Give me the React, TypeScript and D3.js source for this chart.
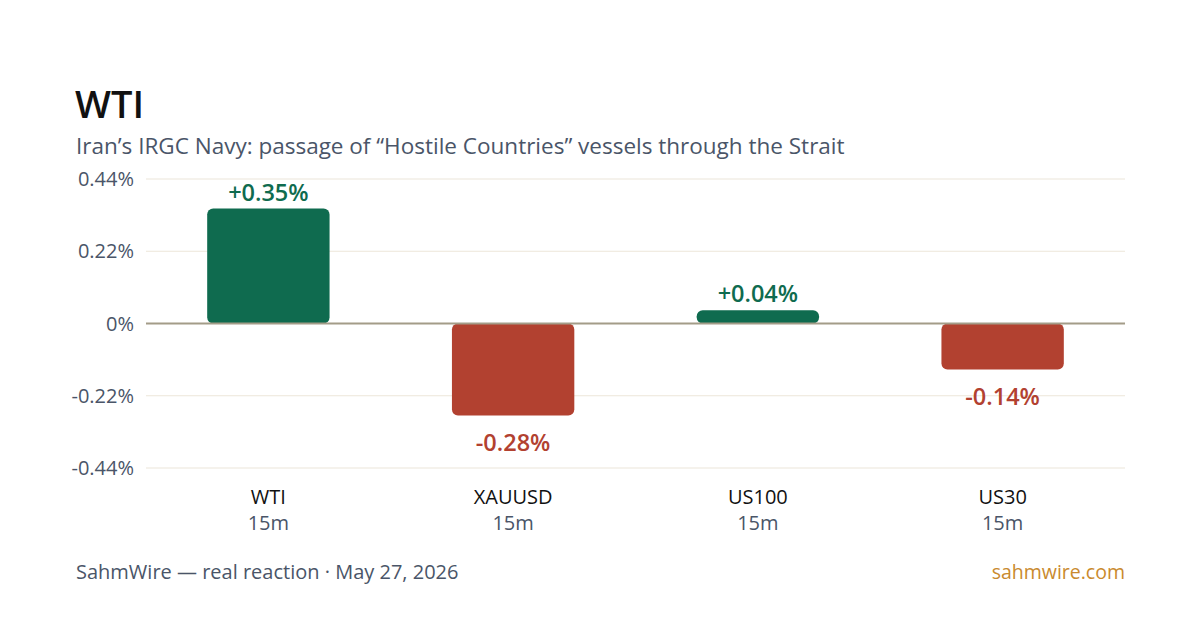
import React, { useRef, useEffect } from 'react';
import * as d3 from 'd3';

// Reaction per instrument, percent change over the window
const symbols = ['WTI', 'XAUUSD', 'US100', 'US30'];
const windows = ['15m', '15m', '15m', '15m'];
const changes = [0.35, -0.28, 0.04, -0.14];
const yTicks = [0.44, 0.22, 0, -0.22, -0.44];

const WIDTH = 1200;
const HEIGHT = 630;
const FONT = '"Open Sans", "Noto Sans", sans-serif';
const UP = '#0f6b4f';
const DOWN = '#b24130';

const fmtTick = (v: number) => (v === 0 ? '0%' : `${v}%`);
const fmtChange = (v: number) => (v > 0 ? `+${v.toFixed(2)}%` : `${v.toFixed(2)}%`);

const App: React.FC = () => {
  const svgRef = useRef<SVGSVGElement>(null);

  useEffect(() => {
    if (!svgRef.current) return;
    const svg = d3.select(svgRef.current);
    svg.selectAll('*').remove();

    const left = 146;
    const right = 1125;

    const x = d3.scaleBand<string>()
      .domain(symbols)
      .range([left, right])
      .paddingInner(0.5)
      .paddingOuter(0.25);

    const y = d3.scaleLinear()
      .domain([-0.44, 0.44])
      .range([468, 179]);

    svg.append('rect')
      .attr('width', WIDTH)
      .attr('height', HEIGHT)
      .attr('fill', '#ffffff');

    // Header
    svg.append('text')
      .attr('x', 75)
      .attr('y', 118)
      .style('font-family', FONT)
      .style('font-size', '38px')
      .style('font-weight', 600)
      .style('fill', '#111111')
      .text('WTI');

    svg.append('text')
      .attr('x', 76)
      .attr('y', 154)
      .style('font-family', FONT)
      .style('font-size', '22.5px')
      .style('fill', '#4a5568')
      .text('Iran’s IRGC Navy: passage of “Hostile Countries” vessels through the Strait');

    // Gridlines and y labels
    const grid = svg.append('g');
    grid.selectAll('line')
      .data(yTicks.filter(t => t !== 0))
      .enter().append('line')
      .attr('x1', left)
      .attr('x2', right)
      .attr('y1', d => y(d))
      .attr('y2', d => y(d))
      .attr('stroke', '#ece6d9')
      .attr('stroke-width', 1.2);

    grid.selectAll('text')
      .data(yTicks)
      .enter().append('text')
      .attr('x', 134)
      .attr('y', d => y(d))
      .attr('dy', '0.35em')
      .attr('text-anchor', 'end')
      .style('font-family', FONT)
      .style('font-size', '20px')
      .style('fill', '#4a5568')
      .text(d => fmtTick(d));

    // Bars
    const rows = symbols.map((s, i) => ({ symbol: s, win: windows[i], value: changes[i] }));
    const bars = svg.append('g');
    bars.selectAll('rect')
      .data(rows)
      .enter().append('rect')
      .attr('x', d => x(d.symbol)!)
      .attr('width', x.bandwidth())
      .attr('y', d => y(Math.max(0, d.value)))
      .attr('height', d => Math.abs(y(d.value) - y(0)))
      .attr('rx', 6)
      .attr('fill', d => (d.value >= 0 ? UP : DOWN));

    // Zero line
    svg.append('line')
      .attr('x1', left)
      .attr('x2', right)
      .attr('y1', y(0))
      .attr('y2', y(0))
      .attr('stroke', '#a39c88')
      .attr('stroke-width', 2);

    // Value labels
    bars.selectAll('text.value')
      .data(rows)
      .enter().append('text')
      .attr('class', 'value')
      .attr('x', d => x(d.symbol)! + x.bandwidth() / 2)
      .attr('y', d => (d.value >= 0 ? y(d.value) - 8 : y(d.value) + 36))
      .attr('text-anchor', 'middle')
      .style('font-family', FONT)
      .style('font-size', '23.5px')
      .style('font-weight', 600)
      .style('fill', d => (d.value >= 0 ? UP : DOWN))
      .text(d => fmtChange(d.value));

    // Category labels
    const cats = svg.append('g');
    cats.selectAll('text.sym')
      .data(rows)
      .enter().append('text')
      .attr('class', 'sym')
      .attr('x', d => x(d.symbol)! + x.bandwidth() / 2)
      .attr('y', 504)
      .attr('text-anchor', 'middle')
      .style('font-family', FONT)
      .style('font-size', '20px')
      .style('fill', '#111111')
      .text(d => d.symbol);

    cats.selectAll('text.win')
      .data(rows)
      .enter().append('text')
      .attr('class', 'win')
      .attr('x', d => x(d.symbol)! + x.bandwidth() / 2)
      .attr('y', 530)
      .attr('text-anchor', 'middle')
      .style('font-family', FONT)
      .style('font-size', '20px')
      .style('fill', '#4a5568')
      .text(d => d.win);

    // Footer
    svg.append('text')
      .attr('x', 76)
      .attr('y', 579)
      .style('font-family', FONT)
      .style('font-size', '20px')
      .style('fill', '#4a5568')
      .text('SahmWire — real reaction · May 27, 2026');

    svg.append('text')
      .attr('x', right)
      .attr('y', 579)
      .attr('text-anchor', 'end')
      .style('font-family', FONT)
      .style('font-size', '19.5px')
      .style('fill', '#c98a2e')
      .text('sahmwire.com');
  }, []);

  return (
    <svg
      ref={svgRef}
      width={WIDTH}
      height={HEIGHT}
      style={{ position: 'absolute', left: 0, top: 0, display: 'block' }}
    />
  );
};

export default App;
